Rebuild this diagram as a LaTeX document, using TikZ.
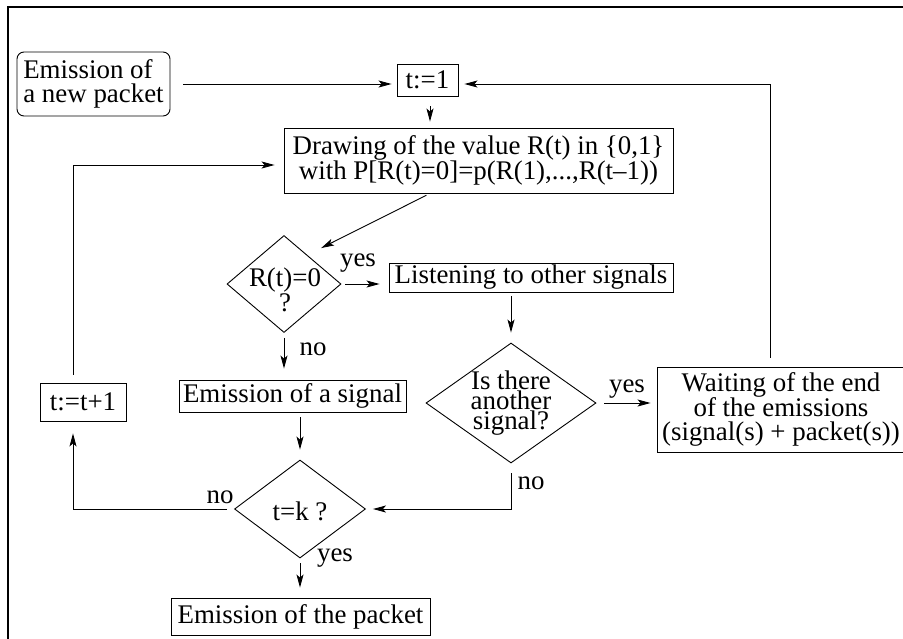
\documentclass[tikz,border=0pt]{standalone}
\usepackage{fontspec}
\setmainfont{Liberation Serif}
\usetikzlibrary{arrows.meta,shapes.geometric}
\newcommand\mainsz{\fontsize{26.9}{24}\selectfont}
\tikzset{
  box/.style={draw, line width=0.9pt, inner sep=0pt, font=\mainsz},
  arr/.style={-{Stealth[length=13pt,width=7pt,inset=3pt]}, line width=0.9pt},
  lbl/.style={inner sep=0pt, font=\mainsz},
  frame/.style={line width=1.3pt}
}
\begin{document}
\begin{tikzpicture}[x=1pt,y=-1pt]
\useasboundingbox (0,0) rectangle (903,638);
\draw[frame] (8,640) -- (8,7) -- (905,7);

\node[box, rounded corners=7pt, minimum width=153pt, minimum height=64pt, align=left] (emit) at (93.5,84) {Emission of\\a new packet};
\node[box, minimum width=61pt, minimum height=32pt] (t1) at (427.5,80) {t:=1};
\node[box, minimum width=389pt, minimum height=65pt, align=center] (drw) at (478.5,160.5) {Drawing of the value R(t) in \{0,1\}\\with P[R(t)=0]=p(R(1),...,R(t--1))};
\node[box, diamond, minimum width=114pt, minimum height=97pt] (rq) at (284,284) {};
\node[lbl, align=center, font=\fontsize{26.9}{22}\selectfont] (rqt) at (285,290) {R(t)=0\\?};
\node[box, minimum width=284pt, minimum height=29pt] (listen) at (531,277.5) {Listening to other signals};
\node[box, diamond, minimum width=170pt, minimum height=120pt] (isq) at (511,403) {};
\node[lbl, align=center, font=\fontsize{26.9}{18}\selectfont] (isqt) at (511,403) {Is there\\another\\signal?};
\node[box, minimum width=248pt, minimum height=85pt, align=center] (wait) at (781,409.5) {Waiting of the end\\of the emissions\\(signal(s) + packet(s))};
\node[box, minimum width=227pt, minimum height=32pt] (sig) at (292.5,396) {Emission of a signal};
\node[box, diamond, minimum width=131pt, minimum height=98pt] (tk) at (300,509) {};
\node[lbl] (tkt) at (300,511) {t=k ?};
\node[box, minimum width=86pt, minimum height=38pt] (tinc) at (83,402) {t:=t+1};
\node[box, minimum width=259pt, minimum height=37pt] (pkt) at (300.5,616.5) {Emission of the packet};

\coordinate (rc) at (770,84);
\coordinate (lc) at (73,165);
\coordinate (nc) at (511,509);
\coordinate (tc) at (73,509);

\draw[arr, shorten <=13pt, shorten >=5pt] (emit.east) -- (emit.east -| t1.west);
\draw[arr, shorten <=10pt, shorten >=6pt] ([xshift=2.5pt]t1.south) -- ([xshift=2.5pt]t1.south |- drw.north);
\draw[arr, shorten <=9pt, shorten >=6pt] (wait.north -| rc) -- (rc) -- (rc -| t1.east);
\draw[arr, shorten <=8pt, shorten >=9pt] (tinc.north -| lc) -- (lc) -- (lc -| drw.west);
\draw[arr, shorten <=4pt, shorten >=1pt] ([xshift=-48.5pt]drw.south) -- ([xshift=7.5pt,yshift=11pt]rq.north east);
\draw[arr, shorten <=4pt, shorten >=9pt] (rq.east) -- (rq.east -| listen.west);
\node[lbl] (yes1) at (358,263) {yes};
\draw[arr, shorten <=4pt, shorten >=10pt] (listen.south -| isq.north) -- (isq.north);
\draw[arr, shorten <=8pt, shorten >=6pt] (isq.east) -- (isq.east -| wait.west);
\node[lbl] (yes2) at (627,389) {yes};
\draw[arr, shorten <=10pt, shorten >=7pt] (isq.south) -- (nc) -- (nc -| tk.east);
\node[lbl] (no1) at (531,483) {no};
\draw[arr, shorten <=5pt, shorten >=11pt] (rq.south) -- (rq.south |- sig.north);
\node[lbl] (no2) at (313,349) {no};
\draw[arr, shorten <=5pt, shorten >=10pt] (sig.south -| tk.north) -- (tk.north);
\draw[arr, shorten <=7pt, shorten >=12pt] (tk.west) -- (tc) -- (tc |- tinc.south);
\node[lbl] (no3) at (220,497) {no};
\draw[arr, shorten <=5pt, shorten >=10pt] (tk.south) -- (tk.south |- pkt.north);
\node[lbl] (yes3) at (335,558) {yes};
\end{tikzpicture}
\end{document}
